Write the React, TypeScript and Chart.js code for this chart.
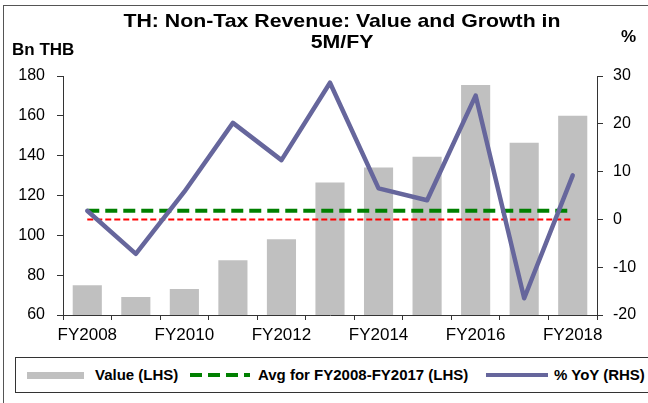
import React, { useEffect, useRef } from "react";
import { Chart, registerables } from "chart.js";

Chart.register(...registerables);

const categories = ["FY2008", "FY2009", "FY2010", "FY2011", "FY2012", "FY2013", "FY2014", "FY2015", "FY2016", "FY2017", "FY2018"];
const valueLHS = [75, 69, 73, 87.5, 98, 126.5, 134, 139.5, 175.5, 146.5, 160];
const yoyRHS = [1.8, -7.2, 5.8, 20.2, 12.4, 28.6, 6.5, 4.0, 25.9, -16.5, 9.2];
const avgLHS = [112.4, 112.4, 112.4, 112.4, 112.4, 112.4, 112.4, 112.4, 112.4, 112.4, 112.4];
const zeroRHS = [0, 0, 0, 0, 0, 0, 0, 0, 0, 0, 0];
const leftTicks = { min: 60, max: 180, step: 20 };
const rightTicks = { min: -20, max: 30, step: 10 };

const FONT = "'Liberation Sans', Arial, Helvetica, sans-serif";
const AXIS = "#333333";

export default function App() {
  const ref = useRef<HTMLCanvasElement | null>(null);

  useEffect(() => {
    document.body.style.margin = "0";
    const canvas = ref.current;
    if (!canvas) return;
    const chart = new Chart(canvas, {
      type: "bar",
      data: {
        labels: categories,
        datasets: [
          {
            type: "line",
            label: "% YoY (RHS)",
            data: yoyRHS,
            yAxisID: "y1",
            borderColor: "#66669c",
            borderWidth: 4.5,
            pointRadius: 0,
            tension: 0,
            borderCapStyle: "round",
            borderJoinStyle: "round",
            fill: false,
            order: 0,
          },
          {
            type: "line",
            label: "Avg for FY2008-FY2017 (LHS)",
            data: avgLHS,
            yAxisID: "y",
            borderColor: "#008000",
            borderWidth: 4,
            borderDash: [12, 6],
            pointRadius: 0,
            fill: false,
            order: 1,
          },
          {
            type: "line",
            label: "zero",
            data: zeroRHS,
            yAxisID: "y1",
            borderColor: "#ff0000",
            borderWidth: 2,
            borderDash: [6, 3],
            pointRadius: 0,
            fill: false,
            order: 2,
          },
          {
            type: "bar",
            label: "Value (LHS)",
            data: valueLHS,
            yAxisID: "y",
            backgroundColor: "#c0c0c0",
            barPercentage: 0.6,
            categoryPercentage: 1,
            order: 3,
          },
        ],
      } as any,
      options: {
        animation: false,
        responsive: false,
        maintainAspectRatio: false,
        layout: { padding: { left: 0, right: 0, top: 76, bottom: 58 } },
        plugins: {
          legend: { display: false },
          title: { display: false },
          tooltip: { enabled: false },
        },
        scales: {
          x: {
            type: "category",
            offset: true,
            grid: { display: true, drawOnChartArea: false, drawTicks: true, tickLength: 5, color: AXIS, offset: true },
            border: { display: true, color: AXIS, width: 1 },
            ticks: {
              autoSkip: false,
              maxRotation: 0,
              minRotation: 0,
              padding: 5,
              color: "#000",
              font: { family: FONT, size: 17 },
              callback: (_v: any, i: number) => (i % 2 === 0 ? categories[i] : ""),
            },
            afterFit: (s: any) => {
              s.height = 30;
            },
          },
          y: {
            position: "left",
            min: leftTicks.min,
            max: leftTicks.max,
            grid: { display: true, drawOnChartArea: false, drawTicks: true, tickLength: 6, color: AXIS },
            border: { display: true, color: AXIS, width: 1 },
            ticks: { stepSize: leftTicks.step, padding: 12, color: "#000", font: { family: FONT, size: 16 } },
            afterFit: (s: any) => {
              s.width = 63;
            },
          },
          y1: {
            position: "right",
            min: rightTicks.min,
            max: rightTicks.max,
            grid: { display: true, drawOnChartArea: false, drawTicks: true, tickLength: 6, color: AXIS },
            border: { display: true, color: AXIS, width: 1 },
            ticks: { stepSize: rightTicks.step, padding: 10, color: "#000", font: { family: FONT, size: 16 } },
            afterFit: (s: any) => {
              s.width = 51;
            },
          },
        },
      } as any,
    });
    return () => chart.destroy();
  }, []);

  const bold = { fontFamily: FONT, fontWeight: 700 as const, color: "#000", position: "absolute" as const, whiteSpace: "nowrap" as const };

  return (
    <div style={{ position: "relative", width: 648, height: 403, overflow: "hidden", background: "#fff" }}>
      <div style={{ position: "absolute", left: 3, top: 5, width: 700, height: 500, borderLeft: "1px solid #555", borderTop: "1px solid #555" }} />
      <canvas ref={ref} width={648} height={403} style={{ position: "absolute", left: 0, top: 0, width: 648, height: 403 }} />
      <div style={{ ...bold, left: 0, width: 684, top: 10, fontSize: 19, lineHeight: "21px", textAlign: "center", transform: "scaleX(1.12)", transformOrigin: "342px 0" }}>
        TH: Non-Tax Revenue: Value and Growth in
        <br />
        5M/FY
      </div>
      <div style={{ ...bold, left: 12, top: 40, fontSize: 17, lineHeight: "20px" }}>Bn THB</div>
      <div style={{ ...bold, left: 621, top: 27, fontSize: 17, lineHeight: "20px" }}>%</div>
      <div style={{ position: "absolute", left: 15, top: 357, width: 700, height: 34, border: "1px solid #333", background: "#fff" }}>
        <div style={{ position: "absolute", left: 11, top: 14, width: 57, height: 7, background: "#c0c0c0" }} />
        <div style={{ ...bold, left: 79, top: 7, fontSize: 15, lineHeight: "20px" }}>Value (LHS)</div>
        <svg style={{ position: "absolute", left: 173, top: 10 }} width={62} height={14}>
          <line x1={1} y1={7} x2={61} y2={7} stroke="#008000" strokeWidth={4} strokeDasharray="12 6" />
        </svg>
        <div style={{ ...bold, left: 242, top: 7, fontSize: 15, lineHeight: "20px" }}>Avg for FY2008-FY2017 (LHS)</div>
        <svg style={{ position: "absolute", left: 469, top: 10 }} width={64} height={14}>
          <line x1={1} y1={7} x2={63} y2={7} stroke="#66669c" strokeWidth={4} />
        </svg>
        <div style={{ ...bold, left: 538, top: 7, fontSize: 15, lineHeight: "20px" }}>% YoY (RHS)</div>
      </div>
    </div>
  );
}
